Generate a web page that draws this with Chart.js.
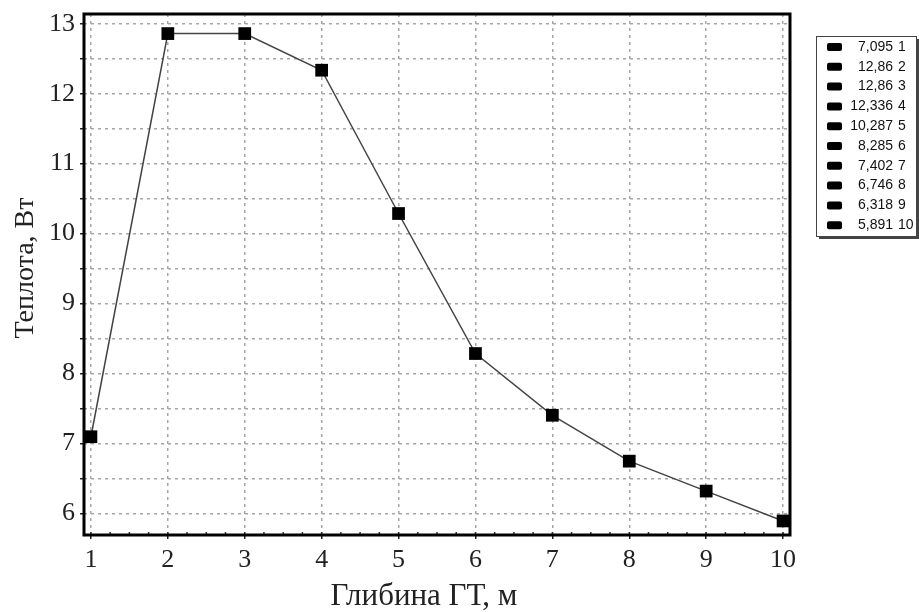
<!DOCTYPE html>
<html>
<head>
<meta charset="utf-8">
<script src="https://cdn.jsdelivr.net/npm/chart.js@4.4.1/dist/chart.umd.min.js"></script>
<style>
  html, body { margin: 0; padding: 0; background: #fff; }
  #wrap { width: 919px; height: 612px; }
</style>
</head>
<body>
<div id="wrap"><canvas id="heatChart"></canvas></div>
<script>
// Data
const depths = [1, 2, 3, 4, 5, 6, 7, 8, 9, 10];
const heat = [7.095, 12.86, 12.86, 12.336, 10.287, 8.285, 7.402, 6.746, 6.318, 5.891];
const xTicks = [1, 2, 3, 4, 5, 6, 7, 8, 9, 10];
const yTicks = [6, 7, 8, 9, 10, 11, 12, 13];
const xTitle = 'Глибина ГТ, м';
const yTitle = 'Теплота, Вт';

const serif = "'Liberation Serif', 'Times New Roman', serif";
const gridStyle = { color: '#a6a6a6', lineWidth: 1.5, drawTicks: true, tickLength: 4, tickColor: '#222', tickBorderDash: [] };

// y grid every half unit, labels only on whole numbers
const yGrid = [];
yTicks.forEach((v, i) => {
  yGrid.push(v);
  if (i < yTicks.length - 1) yGrid.push(v + 0.5);
});

const decorPlugin = {
  id: 'decor',
  beforeDatasetsDraw(chart) {
    const { ctx, chartArea: a, scales } = chart;
    ctx.save();
    // minor ticks on the bottom axis
    ctx.strokeStyle = '#333';
    ctx.lineWidth = 1.5;
    for (let v = xTicks[0]; v <= xTicks[xTicks.length - 1]; v += 0.25) {
      const px = scales.x.getPixelForValue(v);
      ctx.beginPath();
      ctx.moveTo(px, a.bottom);
      ctx.lineTo(px, a.bottom - 3);
      ctx.stroke();
    }
    // plot frame
    ctx.strokeStyle = '#000';
    ctx.lineWidth = 3;
    ctx.strokeRect(a.left, a.top, a.right - a.left, a.bottom - a.top);
    ctx.restore();
  },
  afterDraw(chart) {
    const { ctx } = chart;
    ctx.save();
    ctx.fillStyle = '#222';
    ctx.textAlign = 'center';
    ctx.textBaseline = 'alphabetic';
    ctx.font = '31px ' + serif;
    ctx.fillText(xTitle, 424, 605);
    ctx.font = '28px ' + serif;
    ctx.translate(33, 268);
    ctx.rotate(-Math.PI / 2);
    ctx.fillText(yTitle, 0, 0);
    ctx.restore();

    // legend box
    const bx = 816, by = 36, bw = 100, bh = 200;
    ctx.save();
    ctx.fillStyle = '#fff';
    ctx.fillRect(bx, by, bw, bh);
    ctx.strokeStyle = '#444';
    ctx.lineWidth = 1;
    ctx.strokeRect(bx + 0.5, by + 0.5, bw, bh);
    ctx.lineWidth = 2;
    ctx.beginPath();
    ctx.moveTo(bx + 3, by + bh + 2);
    ctx.lineTo(bx + bw + 2, by + bh + 2);
    ctx.lineTo(bx + bw + 2, by + 3);
    ctx.stroke();
    ctx.font = "14px 'Liberation Sans', Arial, sans-serif";
    ctx.textBaseline = 'middle';
    heat.forEach((v, i) => {
      const y = by + 11 + i * 19.8;
      ctx.fillStyle = '#000';
      ctx.beginPath();
      ctx.roundRect(bx + 11, y - 4, 15, 8, 2);
      ctx.fill();
      ctx.fillStyle = '#111';
      ctx.textAlign = 'right';
      ctx.fillText(String(v).replace('.', ','), bx + 77, y);
      ctx.textAlign = 'left';
      ctx.fillText(String(depths[i]), bx + 82, y);
    });
    ctx.restore();
  }
};

new Chart(document.getElementById('heatChart'), {
  type: 'line',
  data: {
    datasets: [{
      data: depths.map((d, i) => ({ x: d, y: heat[i] })),
      borderColor: '#444',
      borderWidth: 1.5,
      pointStyle: 'rect',
      pointRadius: 9,
      pointBackgroundColor: '#000',
      pointBorderColor: '#000',
      pointBorderWidth: 0,
      tension: 0,
      clip: false
    }]
  },
  options: {
    responsive: true,
    maintainAspectRatio: false,
    animation: false,
    layout: { padding: { left: 0, right: 129, top: 14, bottom: 0 } },
    plugins: {
      legend: { display: false },
      tooltip: { enabled: false }
    },
    scales: {
      x: {
        type: 'linear',
        min: 0.91,
        max: 10.09,
        afterBuildTicks: s => { s.ticks = xTicks.map(v => ({ value: v })); },
        afterFit: s => { s.height = 77; s.paddingLeft = 0; s.paddingRight = 0; },
        grid: gridStyle,
        border: { display: false, dash: [3, 4] },
        ticks: { color: '#222', padding: 6, font: { family: serif, size: 26 } }
      },
      y: {
        min: 5.69,
        max: 13.14,
        afterBuildTicks: s => { s.ticks = yGrid.map(v => ({ value: v })); },
        afterFit: s => { s.width = 84; s.paddingTop = 0; s.paddingBottom = 0; },
        grid: gridStyle,
        border: { display: false, dash: [3, 4] },
        ticks: {
          color: '#222',
          padding: 5,
          font: { family: serif, size: 26 },
          callback: v => Number.isInteger(v) ? v : ''
        }
      }
    }
  },
  plugins: [decorPlugin]
});
</script>
</body>
</html>
